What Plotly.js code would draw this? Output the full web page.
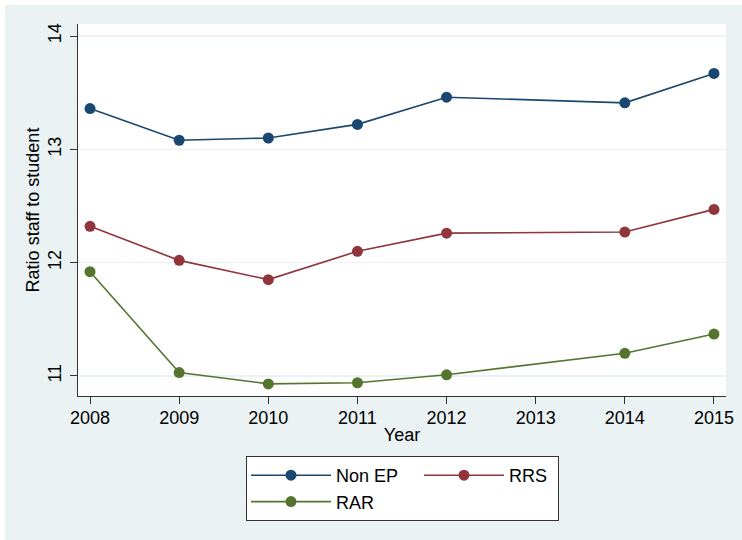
<!DOCTYPE html>
<html>
<head>
<meta charset="utf-8">
<script src="https://cdn.plot.ly/plotly-3.0.1.min.js"></script>
<style>
  html, body { margin: 0; padding: 0; background: #ffffff; }
  #chart { position: absolute; left: 5px; top: 5px; width: 737px; height: 535px; }
</style>
</head>
<body>
<div id="chart"></div>
<script>
const years = [2008, 2009, 2010, 2011, 2012, 2014, 2015];
const nonEP = [13.36, 13.08, 13.10, 13.22, 13.46, 13.41, 13.67];
const rrs   = [12.32, 12.02, 11.85, 12.10, 12.26, 12.27, 12.47];
const rar   = [11.92, 11.03, 10.93, 10.94, 11.01, 11.20, 11.37];
const seriesNames = ['Non EP', 'RRS', 'RAR'];
const xTicks = [2008, 2009, 2010, 2011, 2012, 2013, 2014, 2015];
const yTicks = [11, 12, 13, 14];

const colors = ['#1A476F', '#90353B', '#55752F'];
const groups = ['g1', 'g2', 'g1'];
const widths = [78, 44, 78];
const data = [nonEP, rrs, rar].map((vals, i) => ({
  type: 'scatter',
  mode: 'lines+markers',
  x: years,
  y: vals,
  name: seriesNames[i],
  legendgroup: groups[i],
  legendwidth: widths[i],
  line: { color: colors[i], width: 1.6 },
  marker: { color: colors[i], size: 11, symbol: 'circle' },
  hoverinfo: 'x+y+name'
}));

const font = { family: 'Liberation Sans, Arial, sans-serif', size: 18, color: '#000000' };

const layout = {
  width: 737,
  height: 535,
  paper_bgcolor: '#EAF2F3',
  plot_bgcolor: '#FFFFFF',
  font: font,
  margin: { l: 73, r: 16, t: 19, b: 144, pad: 0 },
  showlegend: true,
  xaxis: {
    range: [2007.865, 2015.135],
    tickvals: xTicks,
    ticktext: xTicks.map(String),
    ticks: 'outside',
    ticklen: 7,
    tickwidth: 1,
    tickcolor: '#333333',
    ticklabelstandoff: -2,
    showline: true,
    linecolor: '#333333',
    linewidth: 1,
    showgrid: false,
    zeroline: false,
    tickfont: font,
    title: { text: 'Year', font: font, standoff: 1 },
    automargin: false
  },
  yaxis: {
    range: [10.823, 14.106],
    tickvals: yTicks,
    ticktext: yTicks.map(String),
    tickangle: -90,
    ticks: 'outside',
    ticklen: 7,
    tickwidth: 1,
    tickcolor: '#333333',
    ticklabelstandoff: 2,
    showline: true,
    linecolor: '#333333',
    linewidth: 1,
    showgrid: true,
    gridcolor: '#EAF2F3',
    gridwidth: 1.5,
    zeroline: false,
    tickfont: font,
    title: { text: 'Ratio staff to student', font: font, standoff: 0 },
    automargin: false
  },
  legend: {
    orientation: 'h',
    traceorder: 'grouped',
    xref: 'container',
    yref: 'container',
    x: 241 / 737,
    y: 1 - 451 / 535,
    xanchor: 'left',
    yanchor: 'top',
    bgcolor: '#FFFFFF',
    bordercolor: '#333333',
    borderwidth: 1,
    itemwidth: 80,
    font: font,
    tracegroupgap: 0
  }
};

Plotly.newPlot('chart', data, layout, { displayModeBar: false, staticPlot: true });
</script>
</body>
</html>
